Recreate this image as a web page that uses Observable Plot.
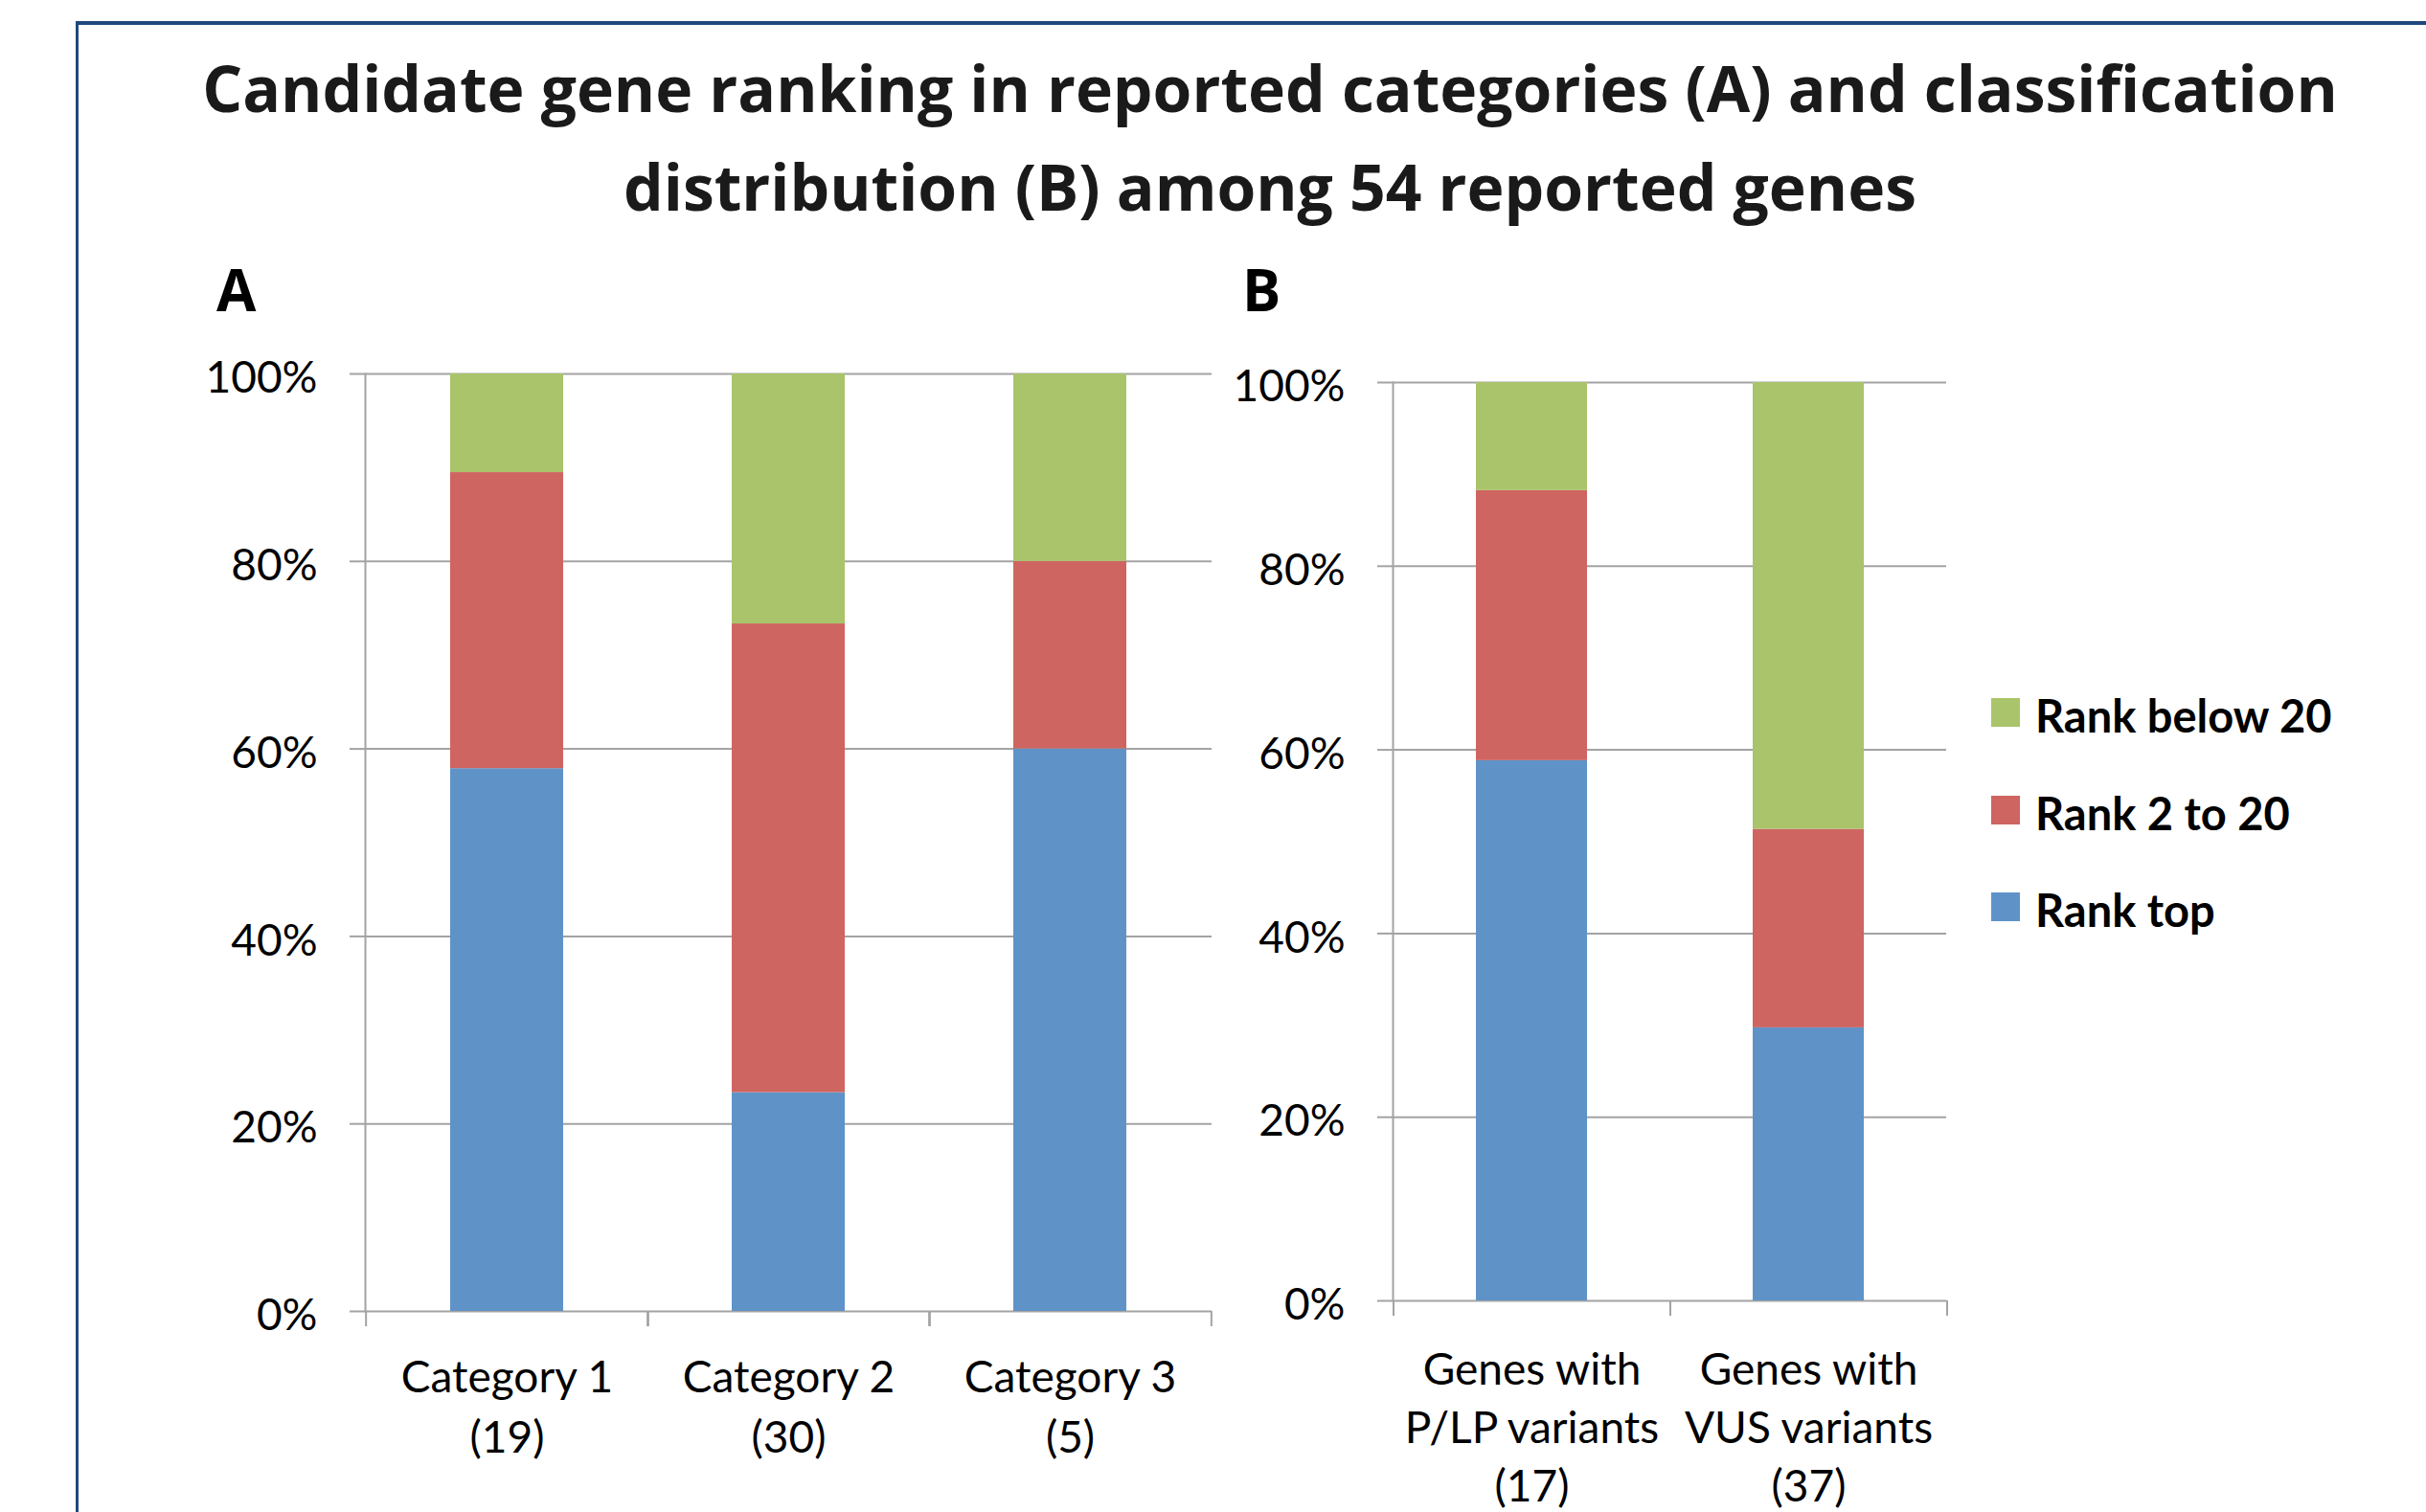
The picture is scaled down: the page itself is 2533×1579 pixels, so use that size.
<!DOCTYPE html>
<html>
<head>
<meta charset="utf-8">
<script src="https://cdn.jsdelivr.net/npm/d3@7"></script>
<script src="https://cdn.jsdelivr.net/npm/@observablehq/plot@0.6"></script>
<style>
  html, body { margin: 0; padding: 0; background: #fff; }
  #page { position: relative; width: 2533px; height: 1579px; overflow: hidden; background: #fff; font-family: Lato, "Open Sans", sans-serif; color: #000; }
  #frame { position: absolute; left: 79px; top: 22px; width: 2700px; height: 1700px; border-top: 4px solid #1F497D; border-left: 3px solid #1F497D; box-sizing: border-box; }
  #title { position: absolute; left: 0; width: 2652px; text-align: center; font-family: "Open Sans", Lato, sans-serif; font-weight: 700; font-size: 64px; line-height: 103px; color: #1a1a1a; white-space: nowrap; }
  .panel-label { position: absolute; font-family: "Open Sans", Lato, sans-serif; font-weight: 700; font-size: 60px; line-height: 72px; color: #000; }
  .chart { position: absolute; }
  #legend { position: absolute; left: 2079px; top: 729px; }
  .lg-row { position: relative; height: 101.5px; }
  .lg-sw { position: absolute; left: 0; top: 0; width: 30px; height: 30px; }
  .lg-tx { position: absolute; left: 46px; top: -10px; white-space: nowrap; font-weight: 700; font-size: 47px; line-height: 56px; color: #000; }
</style>
</head>
<body>
<div id="page">
  <div id="frame"></div>
  <div id="title"></div>
  <div class="panel-label" id="labA" style="left:226px; top:266px;"></div>
  <div class="panel-label" id="labB" style="left:1297px; top:266px;"></div>
  <div class="chart" id="chartA" style="left:180px; top:330px;"></div>
  <div class="chart" id="chartB" style="left:1254px; top:338px;"></div>
  <div id="legend"></div>
</div>
<script>
// ---- Text ----
const titleLines = ["Candidate gene ranking in reported categories (A) and classification", "distribution (B) among 54 reported genes"];
const panelLabels = ["A", "B"];

// ---- Series (stacked bottom to top) ----
const seriesNames = ["Rank top", "Rank 2 to 20", "Rank below 20"];
const seriesColors = ["#5F93C8", "#CE6560", "#AAC46B"];

// ---- Panel A: reported categories (gene counts) ----
const catNamesA = ["Category 1", "Category 2", "Category 3"];
const catCountsA = [19, 30, 5];
const rankTopA = [11, 7, 3];
const rank2to20A = [6, 15, 1];
const rankBelow20A = [2, 8, 1];

// ---- Panel B: classification (gene counts) ----
const catNamesB = ["Genes with\nP/LP variants", "Genes with\nVUS variants"];
const catCountsB = [17, 37];
const rankTopB = [10, 11];
const rank2to20B = [5, 8];
const rankBelow20B = [2, 18];

// ---- Y ticks ----
const yTicks = [0, 0.2, 0.4, 0.6, 0.8, 1];

const GRID = "#A3A3A3";

// Title: fit first line to the reference width
const titleEl = document.getElementById("title");
titleEl.innerHTML = titleLines.join("<br>");
(function fitTitle() {
  const ctx = document.createElement("canvas").getContext("2d");
  ctx.font = `700 64px "Open Sans"`;
  const w = ctx.measureText(titleLines[0]).width;
  const size = Math.max(56, Math.min(76, 64 * 2230 / w));
  titleEl.style.fontSize = size + "px";
  const asc = 1.069 * size, desc = 0.293 * size;
  const half = (103 - (asc + desc)) / 2;
  titleEl.style.top = (117 - half - asc) + "px";
})();
document.getElementById("labA").textContent = panelLabels[0];
document.getElementById("labB").textContent = panelLabels[1];

function panel({names, counts, series, width, height, marginLeft, marginRight, marginTop, marginBottom, labelPadding, lineHeight, yLabelPadding}) {
  const domain = names.map((n, i) => `${n}\n(${counts[i]})`);
  const rows = [];
  domain.forEach((cat, i) => {
    seriesNames.forEach((s, j) => rows.push({cat, series: s, value: series[j][i]}));
  });
  const step = (width - marginLeft - marginRight) / domain.length;
  return Plot.plot({
    width, height, marginLeft, marginRight, marginTop, marginBottom,
    style: {fontFamily: "Lato, 'Open Sans', sans-serif", fontSize: "46px", color: "#000", background: "transparent", overflow: "visible"},
    x: {domain, paddingInner: 0.6, paddingOuter: 0.3, axis: null, label: null},
    y: {domain: [0, 1], axis: null, label: null},
    color: {domain: seriesNames, range: seriesColors},
    marks: [
      Plot.gridY(yTicks, {stroke: GRID, strokeOpacity: 1, strokeWidth: 2}),
      Plot.barY(rows, {x: "cat", y: "value", fill: "series", offset: "normalize", order: null}),
      Plot.frame({anchor: "left", stroke: GRID, strokeWidth: 2}),
      Plot.axisY(yTicks, {label: null, tickSize: 16, stroke: GRID, strokeWidth: 2, fill: "none", tickFormat: () => ""}),
      Plot.axisY(yTicks, {label: null, tickSize: 0, tickPadding: yLabelPadding, dy: 5, fontSize: 46, fill: "#000", tickFormat: d3.format(".0%")}),
      Plot.axisX({label: null, tickSize: 16, stroke: GRID, strokeWidth: 2, fill: "none", tickFormat: () => "", dx: -step / 2}),
      Plot.axisX({label: null, tickSize: 16, stroke: GRID, strokeWidth: 2, fill: "none", tickFormat: () => "", dx: step / 2}),
      Plot.axisX({label: null, tickSize: 0, tickPadding: labelPadding, fontSize: 46, lineHeight, fill: "#000", tickFormat: d => d})
    ]
  });
}

document.getElementById("chartA").append(panel({
  names: catNamesA, counts: catCountsA, series: [rankTopA, rank2to20A, rankBelow20A],
  width: 1100, height: 1249, marginLeft: 201, marginRight: 15, marginTop: 60, marginBottom: 210,
  labelPadding: 40, lineHeight: 63 / 46, yLabelPadding: 50
}));

document.getElementById("chartB").append(panel({
  names: catNamesB, counts: catCountsB, series: [rankTopB, rank2to20B, rankBelow20B],
  width: 793, height: 1241, marginLeft: 200, marginRight: 15, marginTop: 61, marginBottom: 221,
  labelPadding: 44, lineHeight: 61 / 46, yLabelPadding: 50
}));

// ---- Legend (top entry = top of stack) ----
const legend = document.getElementById("legend");
[...seriesNames.keys()].reverse().forEach(j => {
  const row = document.createElement("div");
  row.className = "lg-row";
  const sw = document.createElement("div");
  sw.className = "lg-sw";
  sw.style.background = seriesColors[j];
  const tx = document.createElement("div");
  tx.className = "lg-tx";
  tx.textContent = seriesNames[j];
  row.append(sw, tx);
  legend.append(row);
});
</script>
</body>
</html>
